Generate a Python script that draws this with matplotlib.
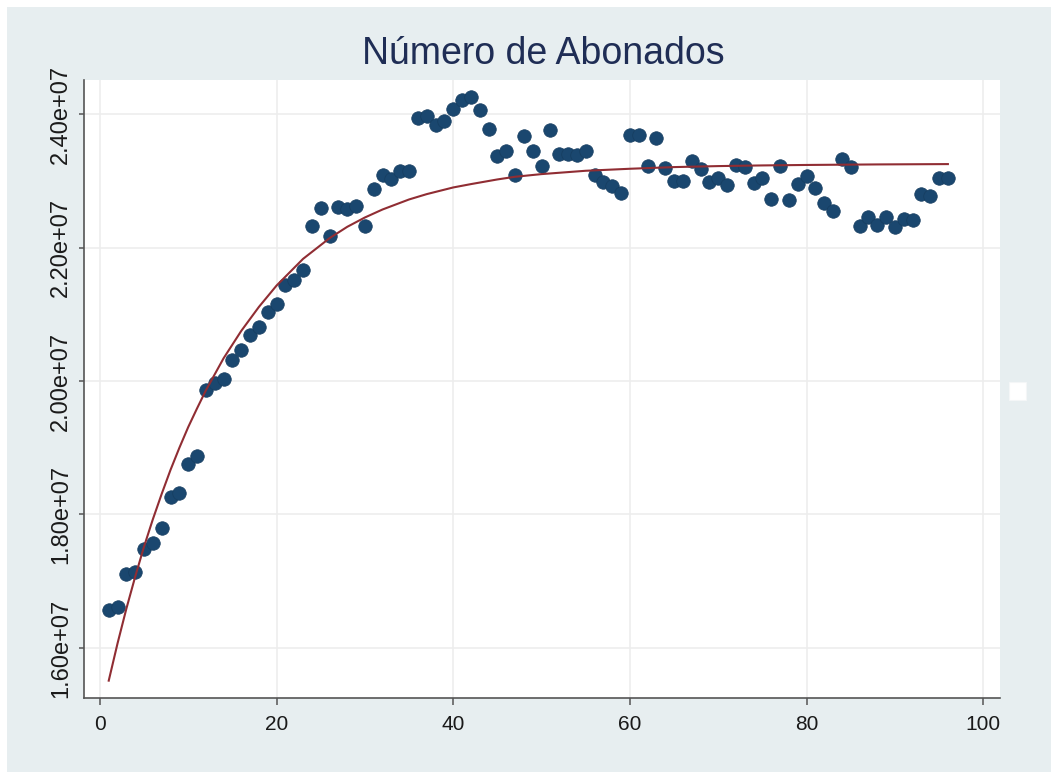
import numpy as np
import matplotlib
matplotlib.use("Agg")
import matplotlib.pyplot as plt
from matplotlib.patches import Rectangle
from matplotlib.ticker import FuncFormatter

plt.rcParams['font.family'] = ['Liberation Sans', 'DejaVu Sans']

# ---- data ----
periodo = list(range(1, 97))
abonados = [
    1.657e7, 1.661e7, 1.711e7, 1.714e7, 1.748e7, 1.757e7, 1.780e7, 1.826e7, 1.832e7, 1.876e7,
    1.888e7, 1.987e7, 1.997e7, 2.003e7, 2.031e7, 2.046e7, 2.069e7, 2.081e7, 2.103e7, 2.115e7,
    2.144e7, 2.151e7, 2.166e7, 2.232e7, 2.259e7, 2.217e7, 2.261e7, 2.258e7, 2.262e7, 2.232e7,
    2.288e7, 2.309e7, 2.303e7, 2.315e7, 2.315e7, 2.394e7, 2.397e7, 2.384e7, 2.390e7, 2.408e7,
    2.421e7, 2.425e7, 2.406e7, 2.378e7, 2.337e7, 2.345e7, 2.309e7, 2.367e7, 2.345e7, 2.322e7,
    2.376e7, 2.340e7, 2.340e7, 2.339e7, 2.345e7, 2.309e7, 2.298e7, 2.292e7, 2.282e7, 2.369e7,
    2.369e7, 2.322e7, 2.364e7, 2.319e7, 2.300e7, 2.300e7, 2.330e7, 2.318e7, 2.298e7, 2.304e7,
    2.294e7, 2.324e7, 2.321e7, 2.297e7, 2.304e7, 2.273e7, 2.322e7, 2.271e7, 2.295e7, 2.307e7,
    2.289e7, 2.267e7, 2.255e7, 2.333e7, 2.321e7, 2.232e7, 2.246e7, 2.234e7, 2.246e7, 2.231e7,
    2.243e7, 2.241e7, 2.280e7, 2.277e7, 2.304e7, 2.304e7,
]

# fitted curve, values at these periods
ajuste_x = [1, 2, 3, 4, 5, 6, 7, 8, 9, 10, 11, 12, 14, 16, 18, 20, 23, 26, 28, 30, 32,
            35, 37, 40, 42, 45, 47, 50, 55, 60, 65, 70, 75, 80, 88, 96]
ajuste_y = [1.551e7, 1.607e7, 1.659e7, 1.707e7, 1.752e7, 1.793e7, 1.831e7, 1.867e7,
            1.900e7, 1.931e7, 1.959e7, 1.986e7, 2.034e7, 2.075e7, 2.111e7, 2.143e7,
            2.183e7, 2.214e7, 2.231e7, 2.245e7, 2.257e7, 2.272e7, 2.280e7, 2.290e7,
            2.295e7, 2.302e7, 2.306e7, 2.310e7, 2.315e7, 2.318e7, 2.3205e7, 2.322e7,
            2.323e7, 2.3237e7, 2.3245e7, 2.325e7]

x_ticks = [0, 20, 40, 60, 80, 100]
y_ticks = [1.6e7, 1.8e7, 2.0e7, 2.2e7, 2.4e7]
titulo = "Número de Abonados"

# ---- figure ----
W, H = 1051, 772
fig = plt.figure(figsize=(W / 100, H / 100), dpi=100, facecolor='white')
fig.patches.append(Rectangle((7 / W, 0), 1 - 7 / W, 1 - 7 / H, transform=fig.transFigure,
                             facecolor='#e7eef0', edgecolor='none', zorder=-10))

ax = fig.add_axes([84 / W, 1 - 698 / H, (1000 - 84) / W, (698 - 80) / H])
ax.set_facecolor('white')

ax.scatter(periodo, abonados, s=95, color='#1a476f', edgecolors='#163d60', linewidths=0.5, zorder=3)
ax.plot(ajuste_x, ajuste_y, color='#902d33', lw=1.5, zorder=4, solid_joinstyle='round')

ax.set_xlim(-1.8, 101.9)
ax.set_ylim(1.525e7, 2.451e7)
ax.set_xticks(x_ticks)
ax.set_yticks(y_ticks)
ax.yaxis.set_major_formatter(FuncFormatter(lambda v, p: f"{v:.2e}"))
ax.grid(True, color='#ededed', lw=1.2, zorder=0)
ax.set_axisbelow(True)

for s in ['top', 'right']:
    ax.spines[s].set_visible(False)
for s in ['left', 'bottom']:
    ax.spines[s].set_color('#555555')
    ax.spines[s].set_linewidth(1.2)

ax.tick_params(axis='x', length=5, width=1.1, color='#555555', labelsize=15, pad=7, labelcolor='#1a1a1a')
ax.tick_params(axis='y', length=3.6, width=1.1, color='#555555', labelsize=17, pad=5, labelcolor='#1a1a1a')
for lab in ax.get_yticklabels():
    lab.set_rotation(90)
    lab.set_va('center')

fig.text(543 / W, 1 - 54 / H, titulo, ha='center', va='center', fontsize=27, color='#1f2d55')

# empty legend box at the right
fig.patches.append(Rectangle((1009 / W, 1 - 400 / H), 17 / W, 18 / H, transform=fig.transFigure,
                             facecolor='white', edgecolor='#f4f6f7', lw=0.8, zorder=5))

fig.savefig('out.png', dpi=100, facecolor=fig.get_facecolor())
